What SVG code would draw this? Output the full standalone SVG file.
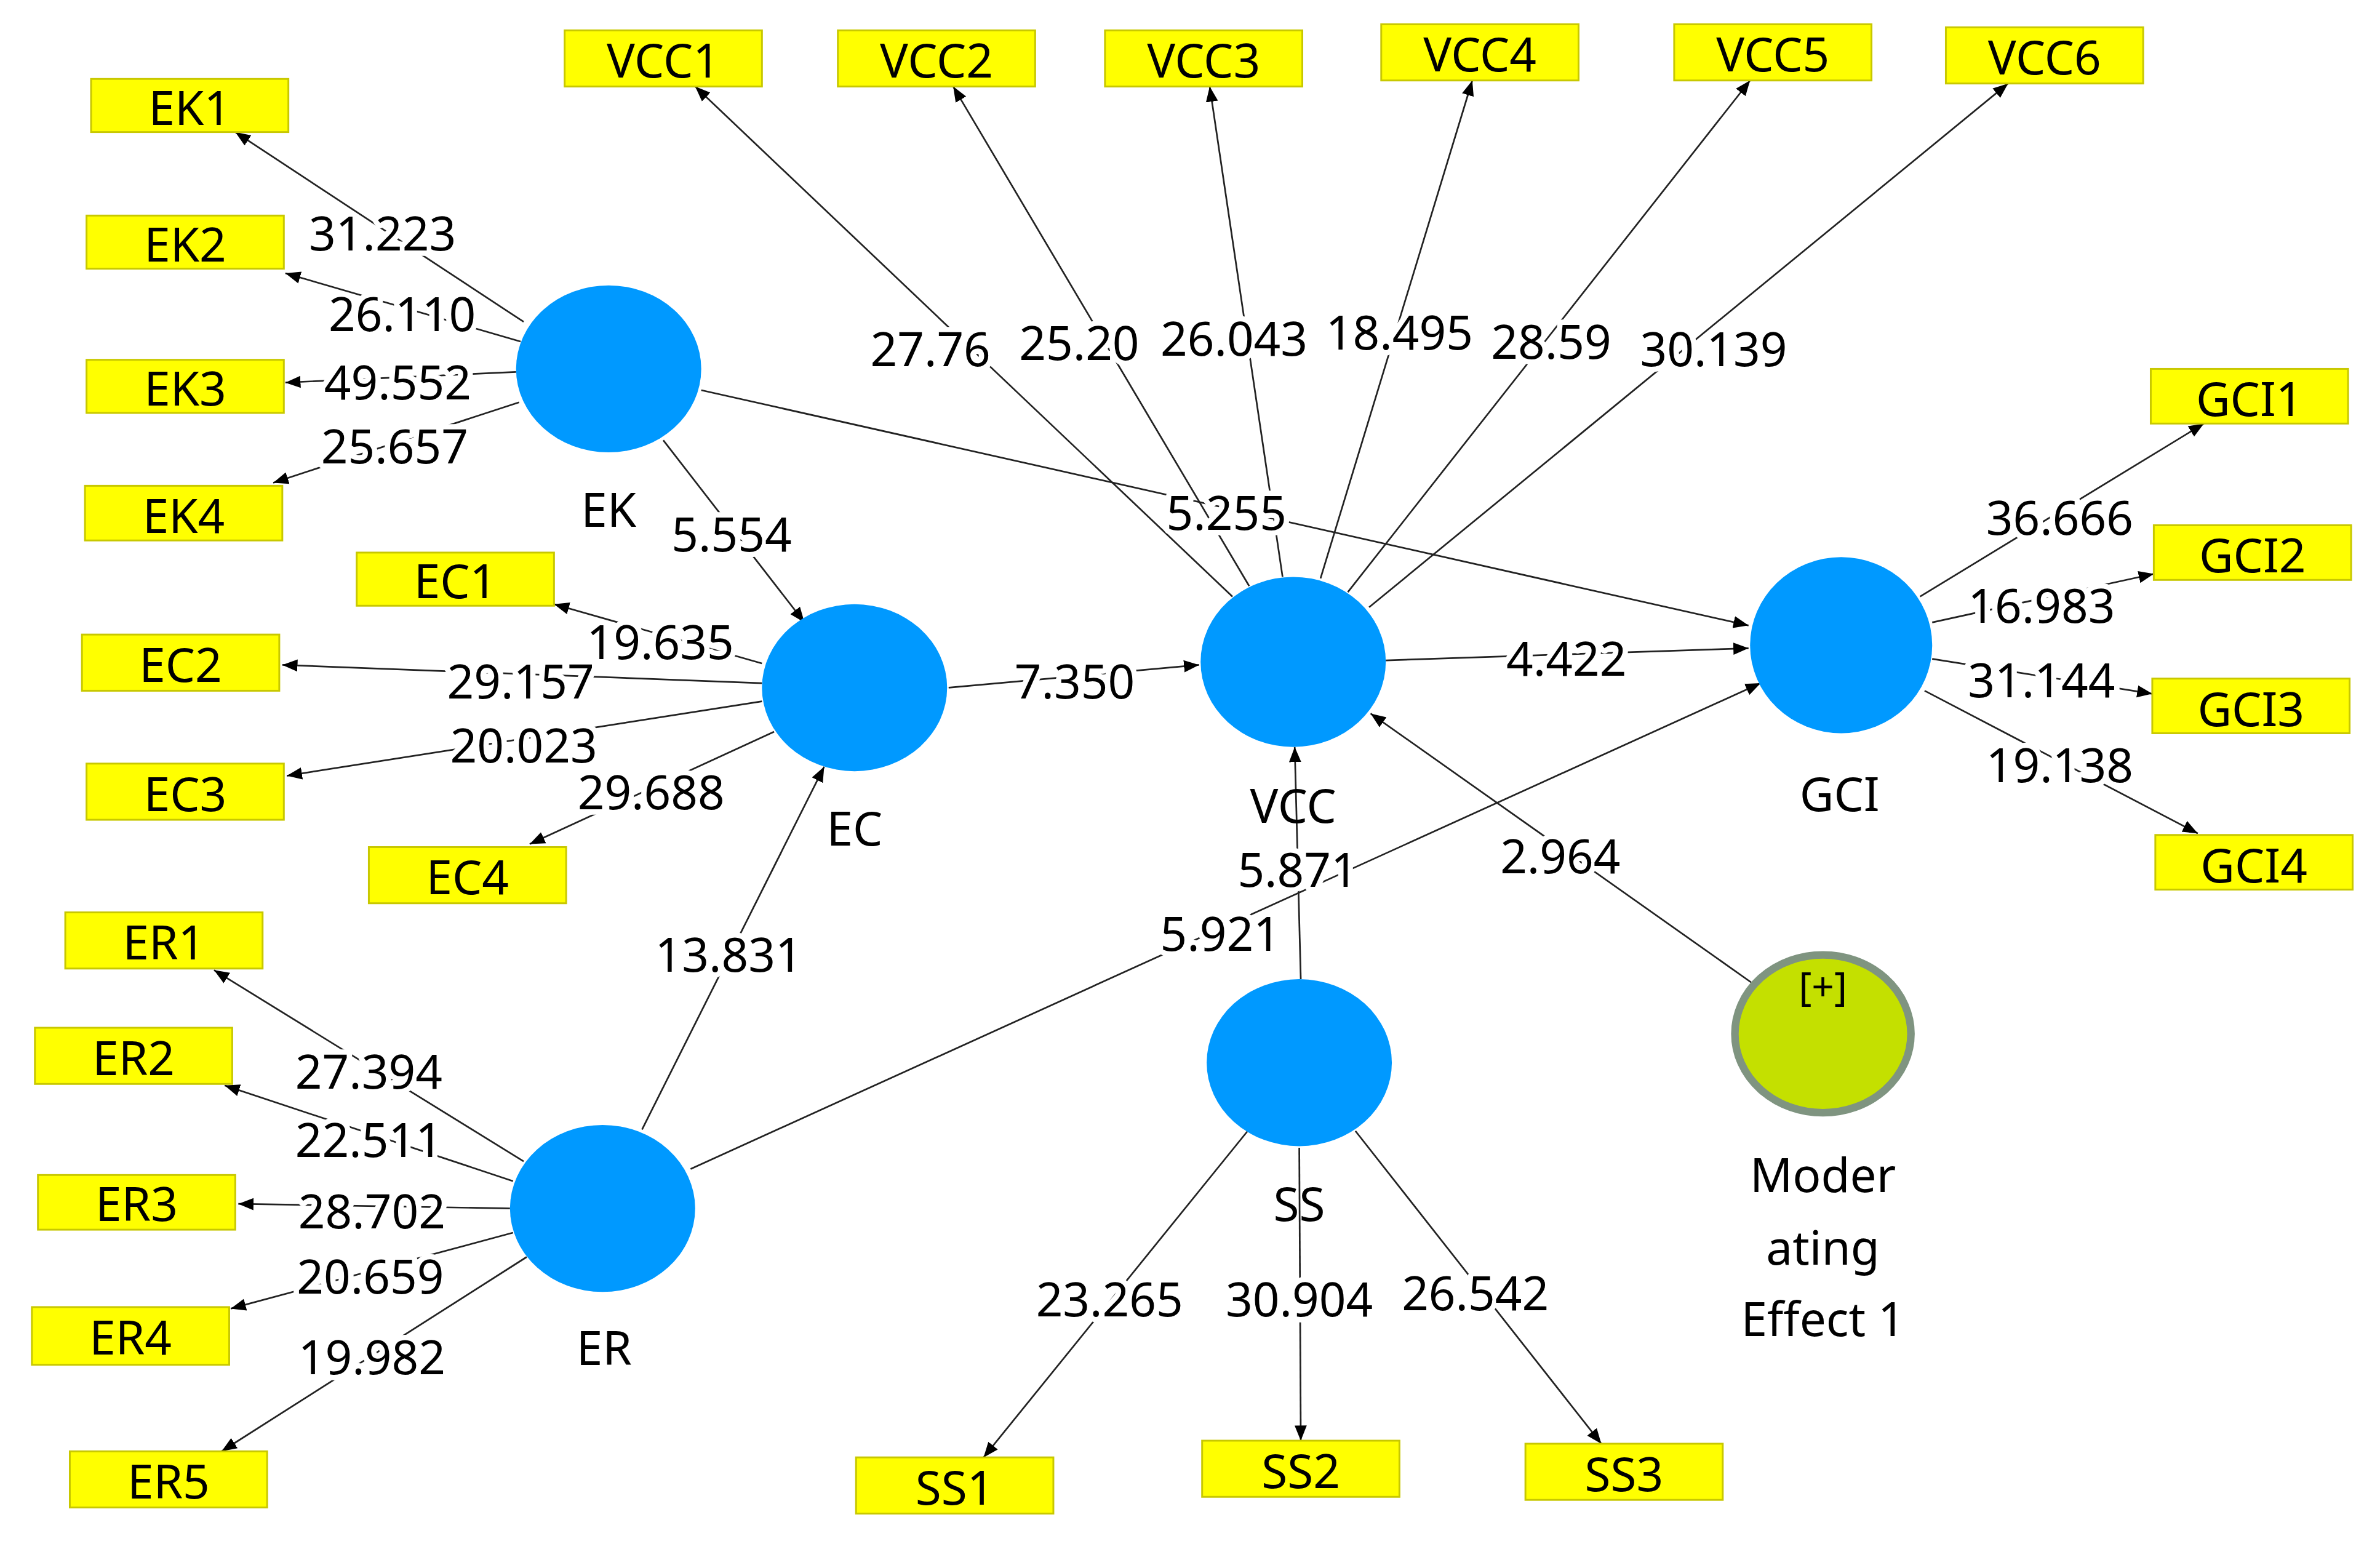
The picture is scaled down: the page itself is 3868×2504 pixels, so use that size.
<svg xmlns="http://www.w3.org/2000/svg" width="3868" height="2504" viewBox="0 0 3868 2504">
<style>
.b{fill:#ffff00;stroke:#c8c800;stroke-width:1.2}
.t{font-family:"Noto Sans","DejaVu Sans",sans-serif;font-size:31px;fill:#000;text-anchor:middle;dominant-baseline:central}
.n{font-family:"Noto Sans","DejaVu Sans",sans-serif;font-size:31px;fill:#000;text-anchor:middle;dominant-baseline:central;stroke:#fff;stroke-width:7;paint-order:stroke;stroke-linejoin:round}
.c{fill:#0099ff}
.e line{stroke:#222;stroke-width:1.1;marker-end:url(#a)}
</style>
<defs><marker id="a" viewBox="0 0 10 10" refX="10" refY="5" markerWidth="10" markerHeight="10" markerUnits="userSpaceOnUse" orient="auto"><path d="M0,1 L10,5 L0,9 z" fill="#000"/></marker></defs>
<rect width="3868" height="2504" fill="#fff"/>
<g transform="scale(2.4668)">
<g id="connectors" class="e">
<line x1="345" y1="212" x2="155" y2="87"/>
<line x1="343" y1="225" x2="188" y2="180"/>
<line x1="340" y1="245" x2="188" y2="252"/>
<line x1="342" y1="265" x2="180" y2="318"/>
<line x1="437" y1="290" x2="530" y2="410"/>
<line x1="462" y1="257" x2="1152" y2="412"/>
<line x1="502" y1="437" x2="365" y2="398"/>
<line x1="502" y1="450" x2="186" y2="438"/>
<line x1="502" y1="462" x2="189" y2="511"/>
<line x1="510" y1="482" x2="349" y2="556"/>
<line x1="625" y1="453" x2="790" y2="438"/>
<line x1="423" y1="744" x2="543" y2="505"/>
<line x1="345" y1="765" x2="141" y2="639"/>
<line x1="338" y1="778" x2="148" y2="715"/>
<line x1="336" y1="796" x2="157" y2="793"/>
<line x1="338" y1="812" x2="152" y2="862"/>
<line x1="347" y1="828" x2="146" y2="956"/>
<line x1="455" y1="770" x2="1160" y2="450"/>
<line x1="913" y1="435" x2="1152" y2="427"/>
<line x1="857" y1="645" x2="853" y2="492"/>
<line x1="1155" y1="648" x2="903" y2="470"/>
<line x1="812" y1="393" x2="458" y2="57"/>
<line x1="823" y1="386" x2="628" y2="57"/>
<line x1="845" y1="380" x2="797" y2="57"/>
<line x1="870" y1="381" x2="970" y2="53"/>
<line x1="888" y1="390" x2="1153" y2="53"/>
<line x1="902" y1="400" x2="1323" y2="55"/>
<line x1="1265" y1="393" x2="1452" y2="279"/>
<line x1="1273" y1="410" x2="1419" y2="378"/>
<line x1="1273" y1="434" x2="1418" y2="457"/>
<line x1="1268" y1="455" x2="1448" y2="549"/>
<line x1="822" y1="745" x2="648" y2="960"/>
<line x1="856" y1="756" x2="857" y2="949"/>
<line x1="893" y1="745" x2="1055" y2="951"/>
</g>
<g id="edge-labels">
<text class="n" x="252" y="153">31.223</text>
<text class="n" x="265" y="206">26.110</text>
<text class="n" x="262" y="251">49.552</text>
<text class="n" x="260" y="293">25.657</text>
<text class="n" x="482" y="351">5.554</text>
<text class="n" x="808" y="337">5.255</text>
<text class="n" x="435" y="422">19.635</text>
<text class="n" x="343" y="448">29.157</text>
<text class="n" x="345" y="490">20.023</text>
<text class="n" x="429" y="521">29.688</text>
<text class="n" x="708" y="448">7.350</text>
<text class="n" x="480" y="628">13.831</text>
<text class="n" x="243" y="705">27.394</text>
<text class="n" x="243" y="750">22.511</text>
<text class="n" x="245" y="797">28.702</text>
<text class="n" x="244" y="840">20.659</text>
<text class="n" x="245" y="893">19.982</text>
<text class="n" x="804" y="614">5.921</text>
<text class="n" x="1032" y="433">4.422</text>
<text class="n" x="855" y="572">5.871</text>
<text class="n" x="1028" y="563">2.964</text>
<text class="n" x="613" y="229">27.76</text>
<text class="n" x="711" y="225">25.20</text>
<text class="n" x="813" y="222">26.043</text>
<text class="n" x="922" y="218">18.495</text>
<text class="n" x="1022" y="224">28.59</text>
<text class="n" x="1129" y="229">30.139</text>
<text class="n" x="1357" y="340">36.666</text>
<text class="n" x="1345" y="398">16.983</text>
<text class="n" x="1345" y="447">31.144</text>
<text class="n" x="1357" y="503">19.138</text>
<text class="n" x="731" y="855">23.265</text>
<text class="n" x="856" y="855">30.904</text>
<text class="n" x="972" y="851">26.542</text>
</g>
<g id="EK"><ellipse class="c" cx="401" cy="243" rx="61" ry="55"/><text class="t" x="401" y="335">EK</text></g>
<g id="EC"><ellipse class="c" cx="563" cy="453" rx="61" ry="55"/><text class="t" x="563" y="545">EC</text></g>
<g id="VCC"><ellipse class="c" cx="852" cy="436" rx="61" ry="56"/><text class="t" x="852" y="530">VCC</text></g>
<g id="GCI"><ellipse class="c" cx="1213" cy="425" rx="60" ry="58"/><text class="t" x="1212" y="522">GCI</text></g>
<g id="SS"><ellipse class="c" cx="856" cy="700" rx="61" ry="55"/><text class="t" x="856" y="792">SS</text></g>
<g id="ER"><ellipse class="c" cx="397" cy="796" rx="61" ry="55"/><text class="t" x="398" y="887">ER</text></g>
<g id="Moderating"><ellipse cx="1201" cy="681" rx="58" ry="52" fill="#c4e000" stroke="#7f9480" stroke-width="5"/><text class="t" x="1201" y="649" style="font-size:26px">[+]</text><text class="t" x="1201" y="773">Moder</text><text class="t" x="1201" y="821">ating</text><text class="t" x="1201" y="868">Effect 1</text></g>
<g id="EK1"><rect class="b" x="60" y="52" width="130" height="35"/><text class="t" x="125" y="70">EK1</text></g>
<g id="EK2"><rect class="b" x="57" y="142" width="130" height="35"/><text class="t" x="122" y="160">EK2</text></g>
<g id="EK3"><rect class="b" x="57" y="237" width="130" height="35"/><text class="t" x="122" y="255">EK3</text></g>
<g id="EK4"><rect class="b" x="56" y="320" width="130" height="36"/><text class="t" x="121" y="339">EK4</text></g>
<g id="VCC1"><rect class="b" x="372" y="20" width="130" height="37"/><text class="t" x="437" y="39">VCC1</text></g>
<g id="VCC2"><rect class="b" x="552" y="20" width="130" height="37"/><text class="t" x="617" y="39">VCC2</text></g>
<g id="VCC3"><rect class="b" x="728" y="20" width="130" height="37"/><text class="t" x="793" y="39">VCC3</text></g>
<g id="VCC4"><rect class="b" x="910" y="16" width="130" height="37"/><text class="t" x="975" y="35">VCC4</text></g>
<g id="VCC5"><rect class="b" x="1103" y="16" width="130" height="37"/><text class="t" x="1168" y="35">VCC5</text></g>
<g id="VCC6"><rect class="b" x="1282" y="18" width="130" height="37"/><text class="t" x="1347" y="37">VCC6</text></g>
<g id="GCI1"><rect class="b" x="1417" y="243" width="130" height="36"/><text class="t" x="1482" y="262">GCI1</text></g>
<g id="GCI2"><rect class="b" x="1419" y="346" width="130" height="36"/><text class="t" x="1484" y="365">GCI2</text></g>
<g id="GCI3"><rect class="b" x="1418" y="447" width="130" height="36"/><text class="t" x="1483" y="466">GCI3</text></g>
<g id="GCI4"><rect class="b" x="1420" y="550" width="130" height="36"/><text class="t" x="1485" y="569">GCI4</text></g>
<g id="EC1"><rect class="b" x="235" y="364" width="130" height="35"/><text class="t" x="300" y="382">EC1</text></g>
<g id="EC2"><rect class="b" x="54" y="418" width="130" height="37"/><text class="t" x="119" y="437">EC2</text></g>
<g id="EC3"><rect class="b" x="57" y="503" width="130" height="37"/><text class="t" x="122" y="522">EC3</text></g>
<g id="EC4"><rect class="b" x="243" y="558" width="130" height="37"/><text class="t" x="308" y="577">EC4</text></g>
<g id="ER1"><rect class="b" x="43" y="601" width="130" height="37"/><text class="t" x="108" y="620">ER1</text></g>
<g id="ER2"><rect class="b" x="23" y="677" width="130" height="37"/><text class="t" x="88" y="696">ER2</text></g>
<g id="ER3"><rect class="b" x="25" y="774" width="130" height="36"/><text class="t" x="90" y="792">ER3</text></g>
<g id="ER4"><rect class="b" x="21" y="861" width="130" height="38"/><text class="t" x="86" y="880">ER4</text></g>
<g id="ER5"><rect class="b" x="46" y="956" width="130" height="37"/><text class="t" x="111" y="975">ER5</text></g>
<g id="SS1"><rect class="b" x="564" y="960" width="130" height="37"/><text class="t" x="629" y="979">SS1</text></g>
<g id="SS2"><rect class="b" x="792" y="949" width="130" height="37"/><text class="t" x="857" y="968">SS2</text></g>
<g id="SS3"><rect class="b" x="1005" y="951" width="130" height="37"/><text class="t" x="1070" y="970">SS3</text></g>
</g>
</svg>
